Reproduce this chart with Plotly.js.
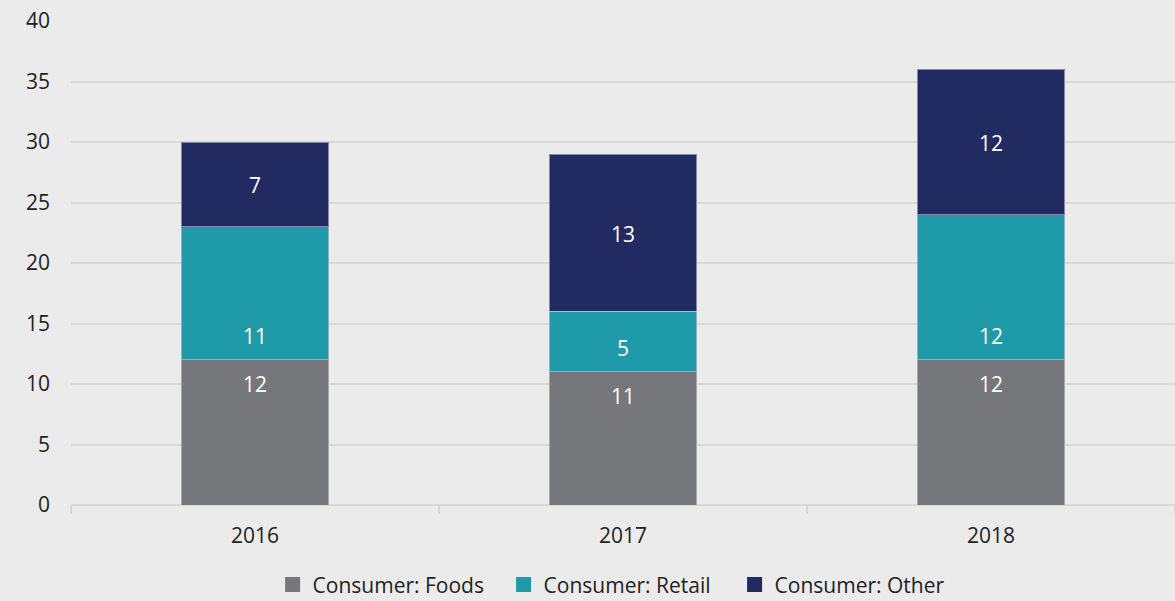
<!DOCTYPE html>
<html>
<head>
<meta charset="utf-8">
<script src="https://cdn.plot.ly/plotly-3.0.1.min.js"></script>
<style>
html,body{margin:0;padding:0;background:#ebebeb;}
#chart{width:1175px;height:601px;}
</style>
</head>
<body>
<div id="chart"></div>
<script>
const years = ["2016", "2017", "2018"];
const foods = [12, 11, 12];
const retail = [11, 5, 12];
const other = [7, 13, 12];
const seriesNames = ["Consumer: Foods", "Consumer: Retail", "Consumer: Other"];
const colors = ["#75777b", "#1e9aa9", "#212b62"];

const font = "'Open Sans', 'Noto Sans', sans-serif";
const series = [foods, retail, other];
const traces = series.map((vals, i) => ({
  type: "bar",
  name: seriesNames[i],
  x: years,
  y: vals,
  showlegend: false,
  marker: {color: colors[i], line: {color: "rgba(200,200,210,0.6)", width: 1}},
  hoverinfo: "x+y+name"
}));
// legend entries with larger square swatches
seriesNames.forEach((nm, i) => {
  traces.push({
    type: "scatter", mode: "markers", name: nm,
    x: [null], y: [null],
    marker: {symbol: "square", size: 15, color: colors[i]},
    showlegend: true
  });
});

const annotations = [];
years.forEach((yr, j) => {
  const f = foods[j], r = retail[j], o = other[j];
  annotations.push({x: j, y: f, text: String(f), showarrow: false, yanchor: "middle", yshift: -24,
    font: {color: "#ffffff", size: 21, family: font}});
  annotations.push({x: j, y: f, text: String(r), showarrow: false, yanchor: "middle", yshift: 24,
    font: {color: "#ffffff", size: 21, family: font}});
  annotations.push({x: j, y: f + r + o / 2, text: String(o), showarrow: false, yanchor: "middle", yshift: -1,
    font: {color: "#ffffff", size: 21, family: font}});
});

const layout = {
  width: 1175, height: 601,
  paper_bgcolor: "#ebebeb",
  plot_bgcolor: "#ebebeb",
  barmode: "stack",
  bargap: 0.6,
  margin: {l: 71, r: 0, t: 21, b: 96, autoexpand: false},
  font: {family: font, size: 21, color: "#222222"},
  xaxis: {
    type: "category",
    tickson: "boundaries",
    ticks: "outside",
    ticklen: 8,
    tickcolor: "#d6d6d6",
    tickwidth: 2,
    showline: false,
    showgrid: false,
    tickangle: 0,
    ticklabelstandoff: 16,
    automargin: false,
    tickfont: {size: 21, color: "#222222"}
  },
  yaxis: {
    range: [0, 40],
    dtick: 5,
    showgrid: true,
    gridcolor: "#d9d9d9",
    gridwidth: 2,
    zeroline: true,
    zerolinecolor: "#d9d9d9",
    zerolinewidth: 2,
    ticks: "",
    ticklabelstandoff: 20,
    automargin: false,
    tickfont: {size: 21, color: "#222222"}
  },
  legend: {
    orientation: "h",
    x: 0.232, xanchor: "left", xref: "container",
    y: 0.027, yanchor: "middle", yref: "container",
    font: {size: 21, color: "#222222"},
    traceorder: "normal",
    itemwidth: 30,
    entrywidth: 186,
    entrywidthmode: "pixels"
  },
  annotations: annotations,
  showlegend: true
};

Plotly.newPlot("chart", traces, layout, {displayModeBar: false, staticPlot: true});
</script>
</body>
</html>
